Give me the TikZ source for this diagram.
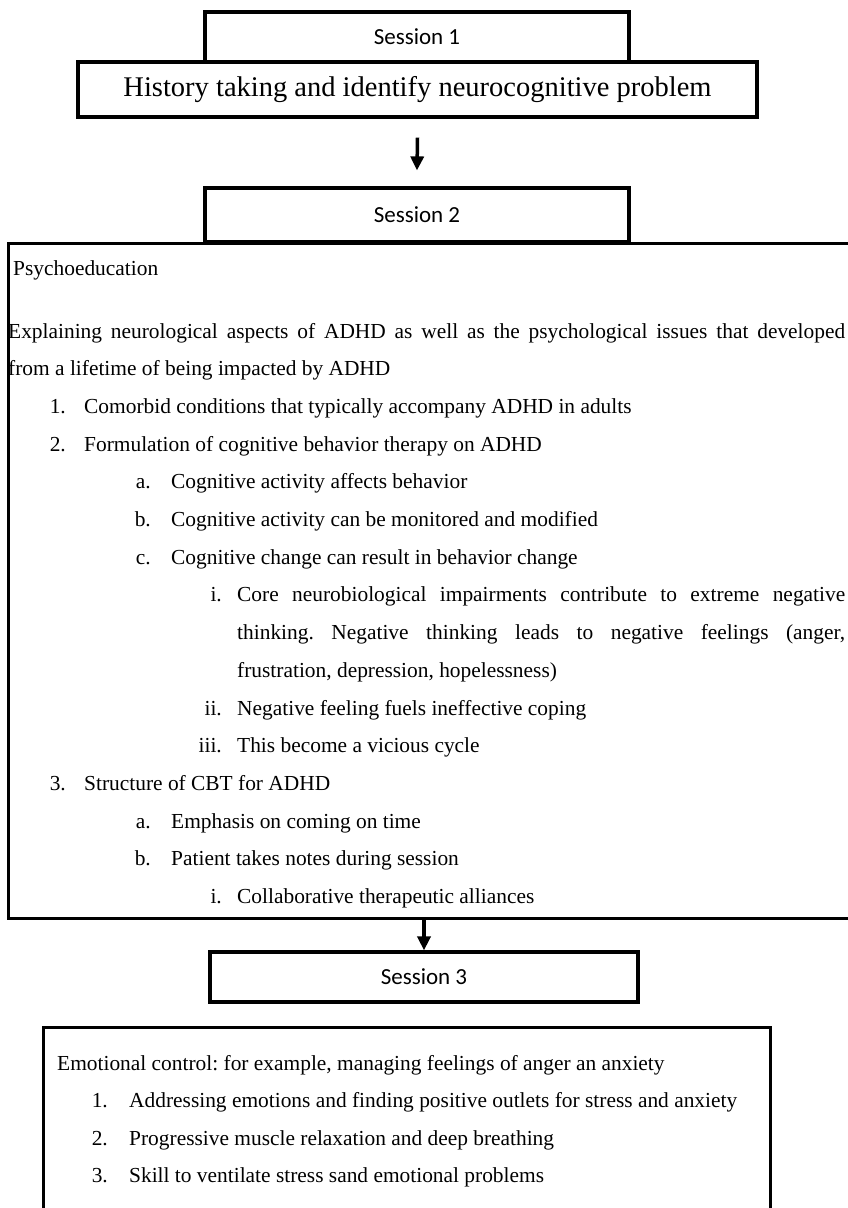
\documentclass[tikz,border=0pt]{standalone}
\usepackage{fontspec}
\setmainfont{Liberation Serif}
\newfontfamily\sessionfont{Carlito}
\usepackage{tikz}
\usetikzlibrary{arrows.meta}
\frenchspacing

\begin{document}
\begin{tikzpicture}[
    x=1pt, y=-1pt,
    framebox/.style={draw=black, line width=3.2pt, inner sep=0pt},
    sessionbox/.style={framebox, font=\sessionfont\fontsize{23}{27}\selectfont},
    bodytext/.style={inner sep=0pt, anchor=base west, font=\fontsize{21.4}{26}\selectfont},
    flowarrow/.style={-{Triangle[width=13pt,length=14pt]}, line width=3.5pt}
]
    \useasboundingbox (0,0) rectangle (847,1208);

    % session boxes
    \node(session-1)[sessionbox, minimum width=424pt, minimum height=50pt] at (417,37) {Session 1};
    \node(history)[framebox, minimum width=679pt, minimum height=55pt,
        font=\fontsize{28.5}{32}\selectfont] at (417.5,89.5) {History taking and identify neurocognitive problem};
    \node(session-2)[sessionbox, minimum width=424pt, minimum height=54pt] at (417,215) {Session 2};
    \node(psycho-box)[framebox, minimum width=853pt, minimum height=675pt, anchor=north west] at (7,242) {};
    \node(session-3)[sessionbox, minimum width=428pt, minimum height=50pt] at (424,977) {Session 3};
    \node(emotion-box)[framebox, minimum width=727pt, minimum height=210pt, anchor=north west] at (42,1026) {};

    \draw[flowarrow] ([yshift=-19pt]history.south) -- ([yshift=16pt]session-2.north);
    \draw[flowarrow] (session-3.north |- psycho-box.south) -- (session-3.north);

    % session 2 text
    \node(psycho-title)[bodytext] at (13,275) {Psychoeducation};
    \foreach \lbl/\lblx/\txtx/\txt [count=\i from 0] in {
        {}/0/8/{\makebox[837pt][s]{Explaining neurological aspects of ADHD as well as the psychological issues that developed}},
        {}/0/8/{from a lifetime of being impacted by ADHD},
        1./66/84/{Comorbid conditions that typically accompany ADHD in adults},
        2./66/84/{Formulation of cognitive behavior therapy on ADHD},
        a./151/171/{Cognitive activity affects behavior},
        b./151/171/{Cognitive activity can be monitored and modified},
        c./151/171/{Cognitive change can result in behavior change},
        i./222/237/{\makebox[608pt][s]{Core neurobiological impairments contribute to extreme negative}},
        {}/0/237/{\makebox[608pt][s]{thinking. Negative thinking leads to negative feelings (anger,}},
        {}/0/237/{frustration, depression, hopelessness)},
        ii./222/237/{Negative feeling fuels ineffective coping},
        iii./222/237/{This become a vicious cycle},
        3./66/84/{Structure of CBT for ADHD},
        a./151/171/{Emphasis on coming on time},
        b./151/171/{Patient takes notes during session},
        i./222/237/{Collaborative therapeutic alliances}
    }{
        \node(psycho-\i)[bodytext] at (\txtx,{338+\i*37.7}) {\txt};
        \ifx\lbl\empty\else
            \node(psycho-mark-\i)[bodytext, anchor=base east] at (\lblx,{338+\i*37.7}) {\lbl};
        \fi
    }

    % session 3 text
    \node(emotion-title)[bodytext] at (57,1070) {Emotional control: for example, managing feelings of anger an anxiety};
    \foreach \lbl/\txt [count=\i] in {
        1./{Addressing emotions and finding positive outlets for stress and anxiety},
        2./{Progressive muscle relaxation and deep breathing},
        3./{Skill to ventilate stress sand emotional problems}
    }{
        \node(emotion-\i)[bodytext] at (129,{1070+\i*37.5}) {\txt};
        \node(emotion-mark-\i)[bodytext, anchor=base east] at (108,{1070+\i*37.5}) {\lbl};
    }
\end{tikzpicture}
\end{document}
